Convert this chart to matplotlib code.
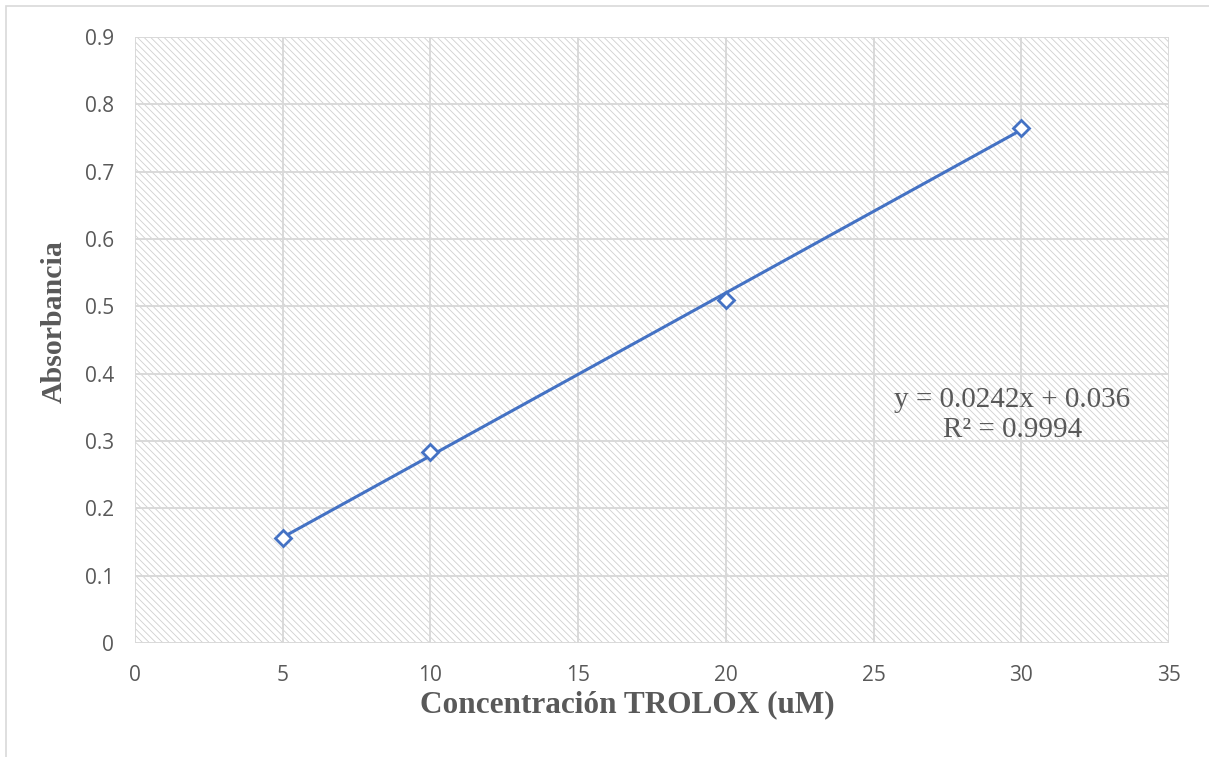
import matplotlib
matplotlib.use("Agg")
import matplotlib.pyplot as plt
import numpy as np
from matplotlib.patches import Rectangle

conc = [5, 10, 20, 30]
absorb = [0.156, 0.283, 0.510, 0.765]
slope = 0.0242
intercept = 0.036
eq_text = "y = 0.0242x + 0.036\nR² = 0.9994"
xticks = [0, 5, 10, 15, 20, 25, 30, 35]
yticks = [0, 0.1, 0.2, 0.3, 0.4, 0.5, 0.6, 0.7, 0.8, 0.9]
ytick_labels = ["0", "0.1", "0.2", "0.3", "0.4", "0.5", "0.6", "0.7", "0.8", "0.9"]

plt.rcParams['hatch.color'] = '#cfcfcf'
plt.rcParams['hatch.linewidth'] = 0.6

fig = plt.figure(figsize=(12.09, 7.57), dpi=100)
fig.patch.set_facecolor('white')
ax = fig.add_axes([135/1209, 1-643/757, (1169-135)/1209, (643-37)/757])

# hatched background
bg = Rectangle((0, 0), 1, 1, transform=ax.transAxes, facecolor='white',
               edgecolor='#cfcfcf', hatch='\\\\\\\\\\', linewidth=0, zorder=0)
ax.add_patch(bg)

ax.set_xlim(0, 35)
ax.set_ylim(0, 0.9)
ax.set_xticks(xticks)
ax.set_yticks(yticks)
ax.set_yticklabels(ytick_labels)
ax.grid(True, color='#d9d9d9', linewidth=1.4, zorder=1)
ax.set_axisbelow(False)
for s in ax.spines.values():
    s.set_visible(False)
ax.tick_params(length=0, labelsize=15, labelcolor='#595959')
ax.tick_params(axis='y', pad=15)
ax.tick_params(axis='x', pad=16)
for lab in ax.get_xticklabels() + ax.get_yticklabels():
    lab.set_family('Open Sans')

xs = np.array([conc[0], conc[-1]])
ax.plot(xs, slope * xs + intercept, color='#4472C4', linewidth=2.2, zorder=3)
ax.plot(conc, absorb, linestyle='none', marker='D', markersize=8.5,
        markerfacecolor='white', markeredgecolor='#4472C4', markeredgewidth=2.0, zorder=4)

ax.text(29.69, 0.338, eq_text, ha='center', va='center', fontsize=21,
        family='Liberation Serif', color='#595959', linespacing=1.2, zorder=5)

ax.set_xlabel('Concentración TROLOX (uM)', fontsize=22.5, fontweight='bold',
              family='Liberation Serif', color='#595959')
ax.xaxis.set_label_coords(0.476, -0.078)
ax.set_ylabel('Absorbancia', fontsize=21.5, fontweight='bold',
              family='Liberation Serif', color='#595959')
ax.yaxis.set_label_coords(-0.0655, 0.53)

# chart area border (partially visible)
border = Rectangle((6/1209, -0.1), 1.2, (751/757) + 0.1, transform=fig.transFigure,
                   facecolor='none', edgecolor='#d9d9d9', linewidth=1.2, clip_on=False)
fig.add_artist(border)

fig.savefig('out.png', dpi=100)
